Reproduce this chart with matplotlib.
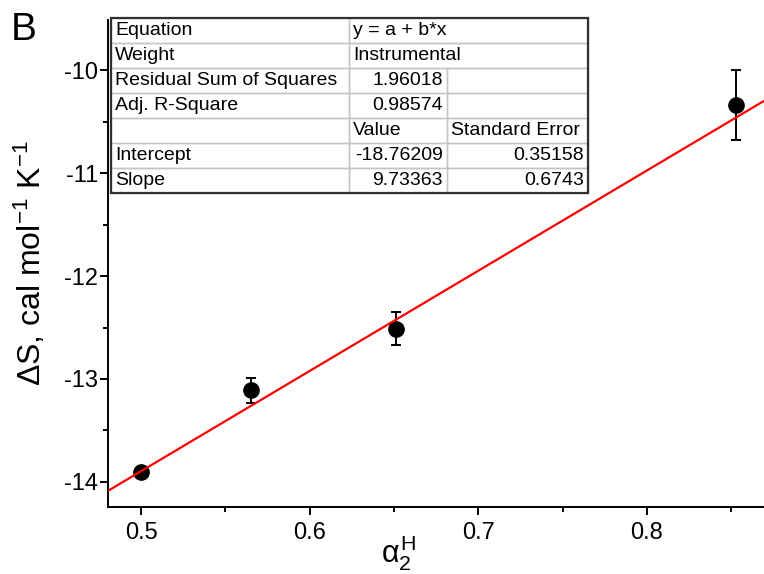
import matplotlib
matplotlib.use("Agg")
import matplotlib.pyplot as plt
import numpy as np
from matplotlib.ticker import MultipleLocator
from matplotlib.patches import Rectangle

# data
alpha2_h = [0.500, 0.565, 0.651, 0.853]
delta_s = [-13.90, -13.11, -12.51, -10.34]
delta_s_err = [0.03, 0.12, 0.16, 0.34]

# fit results shown in the table
intercept = -18.76209
slope = 9.73363

table_rows = [
    ["Equation", "y = a + b*x", ""],
    ["Weight", "Instrumental", ""],
    ["Residual Sum of Squares", "1.96018", ""],
    ["Adj. R-Square", "0.98574", ""],
    ["", "Value", "Standard Error"],
    ["Intercept", "-18.76209", "0.35158"],
    ["Slope", "9.73363", "0.6743"],
]
col_px = [238, 98, 141]
left_text = ("y = a + b*x", "Instrumental", "Value", "Standard Error")

plt.rcParams["font.family"] = ["Liberation Sans", "DejaVu Sans"]
plt.rcParams["mathtext.fontset"] = "custom"
plt.rcParams["mathtext.rm"] = "Liberation Sans"
plt.rcParams["mathtext.it"] = "Liberation Sans"

W, H = 764, 574
fig = plt.figure(figsize=(W / 100, H / 100), dpi=100)
ax = fig.add_axes([108 / W, 1 - 507 / H, (W - 108) / W, (507 - 20) / H])

ax.errorbar(alpha2_h, delta_s, yerr=delta_s_err, fmt="o", color="black",
            markersize=11, capsize=3.8, elinewidth=1.4, capthick=1.4, zorder=3)

x_lo, x_hi = 0.4804, 0.8694
xs = np.array([x_lo, x_hi])
ax.plot(xs, intercept + slope * xs, color="red", lw=1.6, zorder=4)

ax.set_xlim(x_lo, x_hi)
ax.set_ylim(-14.243, -9.514)
ax.xaxis.set_major_locator(MultipleLocator(0.1))
ax.xaxis.set_minor_locator(MultipleLocator(0.05))
ax.yaxis.set_major_locator(MultipleLocator(1))
ax.yaxis.set_minor_locator(MultipleLocator(0.5))
ax.xaxis.set_major_formatter(plt.FuncFormatter(lambda v, p: f"{v:.1f}"))
ax.yaxis.set_major_formatter(plt.FuncFormatter(lambda v, p: f"{v:.0f}"))

for s in ["top", "right"]:
    ax.spines[s].set_visible(False)
for s in ["left", "bottom"]:
    ax.spines[s].set_linewidth(1.4)
ax.tick_params(which="major", length=5.8, width=1.4, labelsize=17, pad=1.5)
ax.tick_params(which="minor", length=3.6, width=1.4)
ax.tick_params(axis="x", pad=5)

ax.set_xlabel(r"$\alpha_2^{\mathrm{H}}$", fontsize=22)
ax.xaxis.set_label_coords(0.442, -0.053)
ax.set_ylabel(r"$\Delta$S, cal mol$^{-1}$ K$^{-1}$", fontsize=23)
ax.yaxis.set_label_coords(-0.091, 0.5)

fig.text(11 / W, 1 - 12 / H, "B", fontsize=28, va="top", ha="left")

# fit table
tx0, tx1, ty0, ty1 = 111, 588, 18, 193
tax = fig.add_axes([tx0 / W, 1 - ty1 / H, (tx1 - tx0) / W, (ty1 - ty0) / H])
tax.axis("off")
total = sum(col_px)
tbl = tax.table(cellText=table_rows, colWidths=[c / total for c in col_px],
                bbox=[0, 0, 1, 1], cellLoc="left")
tbl.auto_set_font_size(False)
tbl.set_fontsize(14)
for (r, c), cell in tbl.get_celld().items():
    cell.set_edgecolor("#c4c4c4")
    cell.set_facecolor("none")
    cell.set_linewidth(1.0)
    cell.PAD = 4 / col_px[c]
    cell.get_text().set_clip_on(False)
    txt = table_rows[r][c]
    if c > 0 and txt and txt not in left_text:
        cell.get_text().set_horizontalalignment("right")
    if r in (0, 1):
        cell.visible_edges = "BTL" if c == 1 else ("BTR" if c == 2 else "closed")
tax.add_patch(Rectangle((0, 0), 1, 1, transform=tax.transAxes, fill=False,
                        edgecolor="#303030", lw=1.6, zorder=5, clip_on=False))

fig.savefig("out.png", dpi=100)
